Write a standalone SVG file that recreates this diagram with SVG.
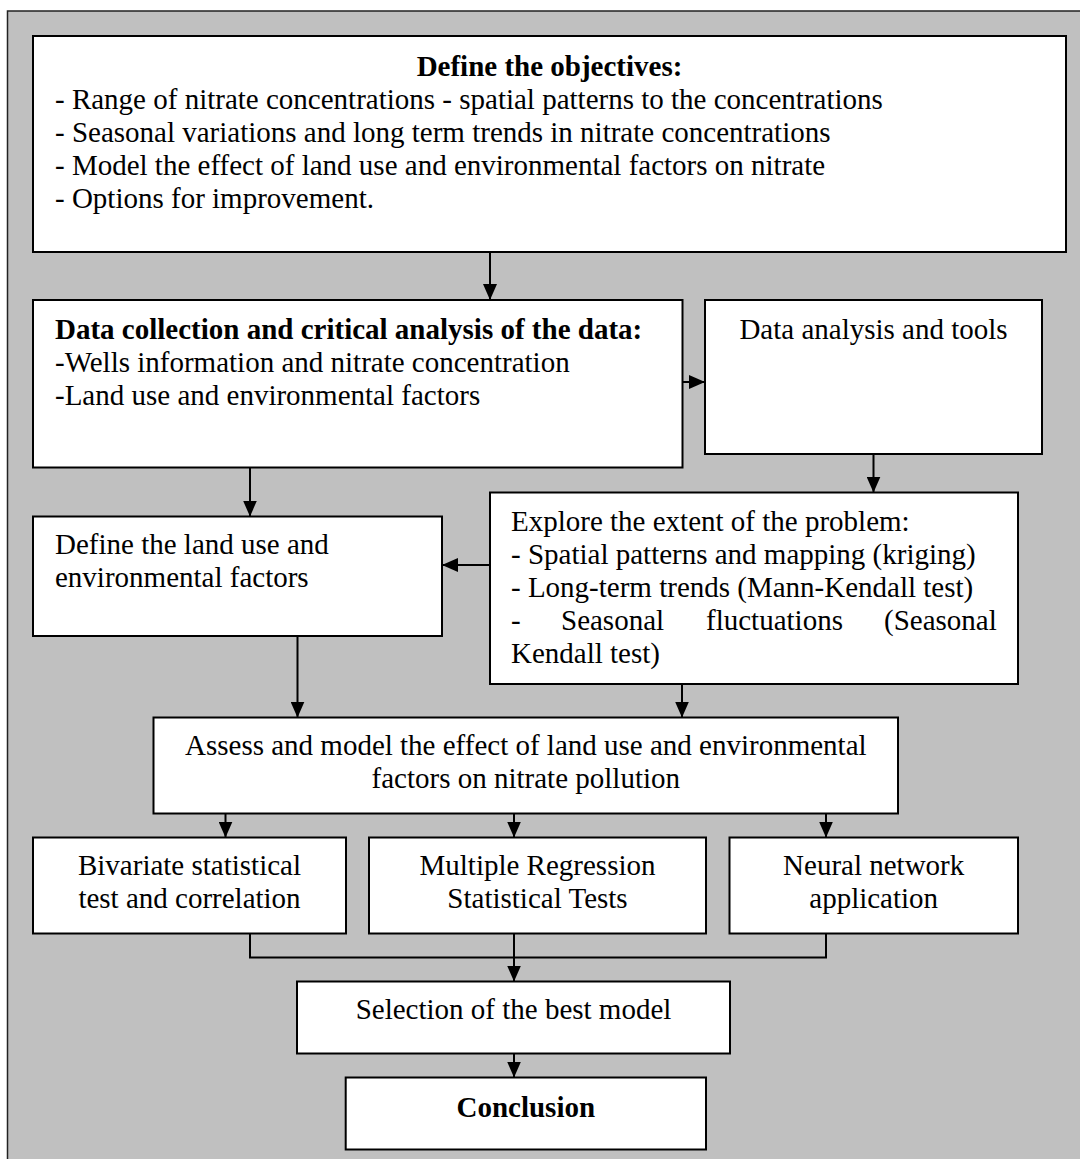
<svg xmlns="http://www.w3.org/2000/svg" width="1080" height="1159" viewBox="0 0 1080 1159">
  <style>
    .box { fill: #ffffff; stroke: #000000; stroke-width: 2; }
    .t { font-family: "Liberation Serif", "Times New Roman", serif; font-size: 29px; fill: #000000; }
    .b { font-weight: bold; }
    .c { text-anchor: middle; }
    .ln { fill: none; stroke: #000000; stroke-width: 2; }
  </style>
  <defs>
    <marker id="arrow" markerUnits="userSpaceOnUse" markerWidth="16" markerHeight="14" refX="16" refY="7" orient="auto">
      <path d="M0,0 L16,7 L0,14 z" fill="#000000"/>
    </marker>
  </defs>

  <rect x="0" y="0" width="1080" height="1159" fill="#ffffff"/>
  <!-- grey background panel -->
  <rect x="7.5" y="11" width="1090" height="1170" fill="#c0c0c0" stroke="#222222" stroke-width="1.5"/>

  <!-- connectors -->
  <g id="connectors">
    <line class="ln" x1="490" y1="252" x2="490" y2="300" marker-end="url(#arrow)"/>
    <line class="ln" x1="682.5" y1="382" x2="705" y2="382" marker-end="url(#arrow)"/>
    <line class="ln" x1="873.5" y1="454" x2="873.5" y2="492.5" marker-end="url(#arrow)"/>
    <line class="ln" x1="250" y1="467.5" x2="250" y2="516.5" marker-end="url(#arrow)"/>
    <line class="ln" x1="490" y1="565" x2="442" y2="565" marker-end="url(#arrow)"/>
    <line class="ln" x1="297.5" y1="636" x2="297.5" y2="717.5" marker-end="url(#arrow)"/>
    <line class="ln" x1="682" y1="684" x2="682" y2="717.5" marker-end="url(#arrow)"/>
    <line class="ln" x1="225.5" y1="813.5" x2="225.5" y2="837.5" marker-end="url(#arrow)"/>
    <line class="ln" x1="514" y1="813.5" x2="514" y2="837.5" marker-end="url(#arrow)"/>
    <line class="ln" x1="826" y1="813.5" x2="826" y2="837.5" marker-end="url(#arrow)"/>
    <polyline class="ln" points="250,933.5 250,957.5 826,957.5 826,933.5"/>
    <line class="ln" x1="514" y1="933.5" x2="514" y2="981.5" marker-end="url(#arrow)"/>
    <line class="ln" x1="514" y1="1053.5" x2="514" y2="1077.5" marker-end="url(#arrow)"/>
  </g>

  <!-- objectives -->
  <g id="objectives">
    <rect class="box" x="33" y="36" width="1033" height="216"/>
    <text class="t b c" x="549.5" y="76">Define the objectives:</text>
    <text class="t" x="55" y="109">- Range of nitrate concentrations - spatial patterns to the concentrations</text>
    <text class="t" x="55" y="142">- Seasonal variations and long term trends in nitrate concentrations</text>
    <text class="t" x="55" y="175">- Model the effect of land use and environmental factors on nitrate</text>
    <text class="t" x="55" y="208">- Options for improvement.</text>
  </g>

  <!-- data collection -->
  <g id="data-collection">
    <rect class="box" x="33" y="300" width="649.5" height="167.5"/>
    <text class="t b" x="55" y="339">Data collection and critical analysis of the data:</text>
    <text class="t" x="55" y="372">-Wells information and nitrate concentration</text>
    <text class="t" x="55" y="405">-Land use and environmental factors</text>
  </g>

  <!-- data analysis -->
  <g id="data-analysis">
    <rect class="box" x="705" y="300" width="337" height="154"/>
    <text class="t c" x="873.5" y="339">Data analysis and tools</text>
  </g>

  <!-- land use factors -->
  <g id="land-use">
    <rect class="box" x="33" y="516.5" width="409" height="119.5"/>
    <text class="t" x="55" y="553.5">Define the land use and</text>
    <text class="t" x="55" y="586.5">environmental factors</text>
  </g>

  <!-- explore the problem -->
  <g id="explore">
    <rect class="box" x="490" y="492.5" width="528" height="191.5"/>
    <text class="t" x="511" y="530.5">Explore the extent of the problem:</text>
    <text class="t" x="511" y="563.5">- Spatial patterns and mapping (kriging)</text>
    <text class="t" x="511" y="596.5">- Long-term trends (Mann-Kendall test)</text>
    <text class="t" y="629.5"><tspan x="511">-</tspan><tspan x="561">Seasonal</tspan><tspan x="706">fluctuations</tspan><tspan x="884">(Seasonal</tspan></text>
    <text class="t" x="511" y="662.5">Kendall test)</text>
  </g>

  <!-- assess and model -->
  <g id="assess">
    <rect class="box" x="153.5" y="717.5" width="744.5" height="96"/>
    <text class="t c" x="525.8" y="755">Assess and model the effect of land use and environmental</text>
    <text class="t c" x="525.8" y="788">factors on nitrate pollution</text>
  </g>

  <!-- bivariate -->
  <g id="bivariate">
    <rect class="box" x="33" y="837.5" width="313" height="96"/>
    <text class="t c" x="189.5" y="875">Bivariate statistical</text>
    <text class="t c" x="189.5" y="908">test and correlation</text>
  </g>

  <!-- multiple regression -->
  <g id="regression">
    <rect class="box" x="369" y="837.5" width="337" height="96"/>
    <text class="t c" x="537.5" y="875">Multiple Regression</text>
    <text class="t c" x="537.5" y="908">Statistical Tests</text>
  </g>

  <!-- neural network -->
  <g id="neural">
    <rect class="box" x="729.5" y="837.5" width="288.5" height="96"/>
    <text class="t c" x="873.7" y="875">Neural network</text>
    <text class="t c" x="873.7" y="908">application</text>
  </g>

  <!-- model selection -->
  <g id="selection">
    <rect class="box" x="297" y="981.5" width="433" height="72"/>
    <text class="t c" x="513.5" y="1019">Selection of the best model</text>
  </g>

  <!-- conclusion -->
  <g id="conclusion">
    <rect class="box" x="345.7" y="1077.5" width="360.3" height="72"/>
    <text class="t b c" x="525.8" y="1117">Conclusion</text>
  </g>
</svg>
